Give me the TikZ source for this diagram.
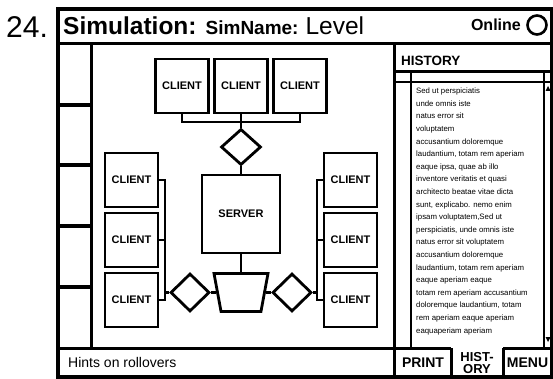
\documentclass[tikz,border=0pt]{standalone}
\usepackage{fontspec}
\setmainfont{Liberation Sans}
\usepackage{tikz}
\usetikzlibrary{shapes.geometric}

\begin{document}
\begin{tikzpicture}[x=1pt,y=-1pt,
    wire/.style={line width=2.9pt},
    rule/.style={line width=3pt},
    fine/.style={line width=1.6pt},
    client/.style={draw,line width=2.9pt,minimum width=53pt,minimum height=54pt,inner sep=0pt,
      font=\bfseries\fontsize{11}{12}\selectfont},
    switch/.style={draw,diamond,line width=2.8pt,minimum width=39pt,minimum height=38pt,inner sep=0pt},
    hub/.style={draw,trapezium,trapezium angle=80,trapezium stretches=true,shape border rotate=180,
      line width=2.8pt,minimum width=54pt,minimum height=38pt,inner sep=3pt},
    btn/.style={font=\bfseries\fontsize{14}{16}\selectfont,inner sep=0pt}]
    \useasboundingbox (0,0) rectangle (553,379);
    % window
    \draw[line width=4pt] (57.5,9) rectangle (552,376.5);
    \draw[rule] (57,44) -- (552,44);
    \draw[rule] (91,44) -- (91,348);
    \foreach \y in {105,165,226,287}
      \draw[line width=3.5pt] (57,\y) -- (91,\y);
    \draw[rule] (57,348) -- (451,348);
    \draw[rule] (503,348) -- (552,348);
    \draw[rule] (394,44) -- (394,376.5);
    \draw[rule] (451,348) -- (451,376.5);
    \draw[rule] (503,348) -- (503,376.5);
    \draw[line width=2.5pt] (394,71.5) -- (552,71.5);
    \draw[fine] (394,82) -- (552,82);
    \draw[fine] (411,71.5) -- (411,348);
    \draw[fine] (544,71.5) -- (544,348);
    \fill (545.5,91) -- (550.5,91) -- (548,86) -- cycle;
    \fill (545.5,337) -- (550.5,337) -- (548,342) -- cycle;
    % texts
    \node[anchor=base west,inner sep=0pt,font=\fontsize{30}{32}\selectfont] (num) at (6,38) {24.};
    \node[anchor=base west,inner sep=0pt] (title) at (63,35)
      {{\bfseries\fontsize{24.5}{26}\selectfont Simulation: }{\bfseries\fontsize{19}{20}\selectfont SimName: }{\fontsize{24.5}{26}\selectfont Level}};
    \node[anchor=base east,inner sep=0pt,font=\bfseries\fontsize{16}{18}\selectfont] (online) at (521,31) {Online};
    \draw[line width=2.6pt] (537,25) circle (9.5);
    \node[anchor=base west,inner sep=0pt,font=\bfseries\fontsize{13.5}{15}\selectfont] (hist) at (401,66) {HISTORY};
    \node[anchor=north west,inner sep=0pt,align=left,font=\fontsize{7.8}{12.6}\selectfont] (log) at (416,87.8)
      {Sed ut perspiciatis\\ unde omnis iste\\ natus error sit\\ voluptatem\\
       accusantium doloremque\\ laudantium, totam rem aperiam\\ eaque ipsa, quae ab illo\\
       inventore veritatis et quasi\\ architecto beatae vitae dicta\\ sunt, explicabo. nemo enim\\
       ipsam voluptatem,Sed ut\\ perspiciatis, unde omnis iste\\ natus error sit voluptatem\\
       accusantium doloremque\\ laudantium, totam rem aperiam\\ eaque aperiam eaque\\
       totam rem aperiam accusantium\\ doloremque laudantium, totam\\ rem aperiam eaque aperiam\\
       eaquaperiam aperiam};
    \node[anchor=west,inner sep=0pt,font=\fontsize{14}{16}\selectfont] (hint) at (68,362) {Hints on rollovers};
    \node[btn] (print) at (423,363) {PRINT};
    \node[btn,align=center,font=\bfseries\fontsize{13}{11.5}\selectfont] (tab) at (477,363) {HIST-\\ORY};
    \node[btn] (menu) at (527.5,363) {MENU};
    % network
    \node[client] (c1) at (182,86) {CLIENT};
    \node[client] (c2) at (241,86) {CLIENT};
    \node[client] (c3) at (300,86) {CLIENT};
    \node[client] (c4) at (131.5,180) {CLIENT};
    \node[client] (c5) at (131.5,240) {CLIENT};
    \node[client] (c6) at (131.5,300) {CLIENT};
    \node[client] (c7) at (350.5,180) {CLIENT};
    \node[client] (c8) at (350.5,240) {CLIENT};
    \node[client] (c9) at (350.5,300) {CLIENT};
    \node[client,minimum width=78pt,minimum height=78pt] (server) at (241,214) {SERVER};
    \node[switch,minimum width=40pt,minimum height=36pt] (dtop) at (241,147) {};
    \node[switch] (dleft) at (190,292.5) {};
    \node[switch] (dright) at (292,292.5) {};
    \node[hub] (mux) at (241,292.5) {};
    \coordinate (tbus) at (241,122);
    \coordinate (lbus) at (165,292.5);
    \coordinate (rbus) at (317,292.5);
    \draw[wire] (c1.south) |- (tbus) -| (c3.south);
    \draw[wire] (c2.south) -- (tbus) -- (dtop);
    \draw[wire] (dtop) -- (server);
    \draw[wire] (server) -- (mux);
    \draw[wire] (c4.east) -| (lbus) |- (c6.east);
    \draw[wire] (c5.east) -- (c5.east -| lbus);
    \draw[wire] (lbus) -- (dleft) -- (mux);
    \draw[wire] (c7.west) -| (rbus) |- (c9.west);
    \draw[wire] (c8.west) -- (c8.west -| rbus);
    \draw[wire] (rbus) -- (dright) -- (mux);
\end{tikzpicture}
\end{document}
